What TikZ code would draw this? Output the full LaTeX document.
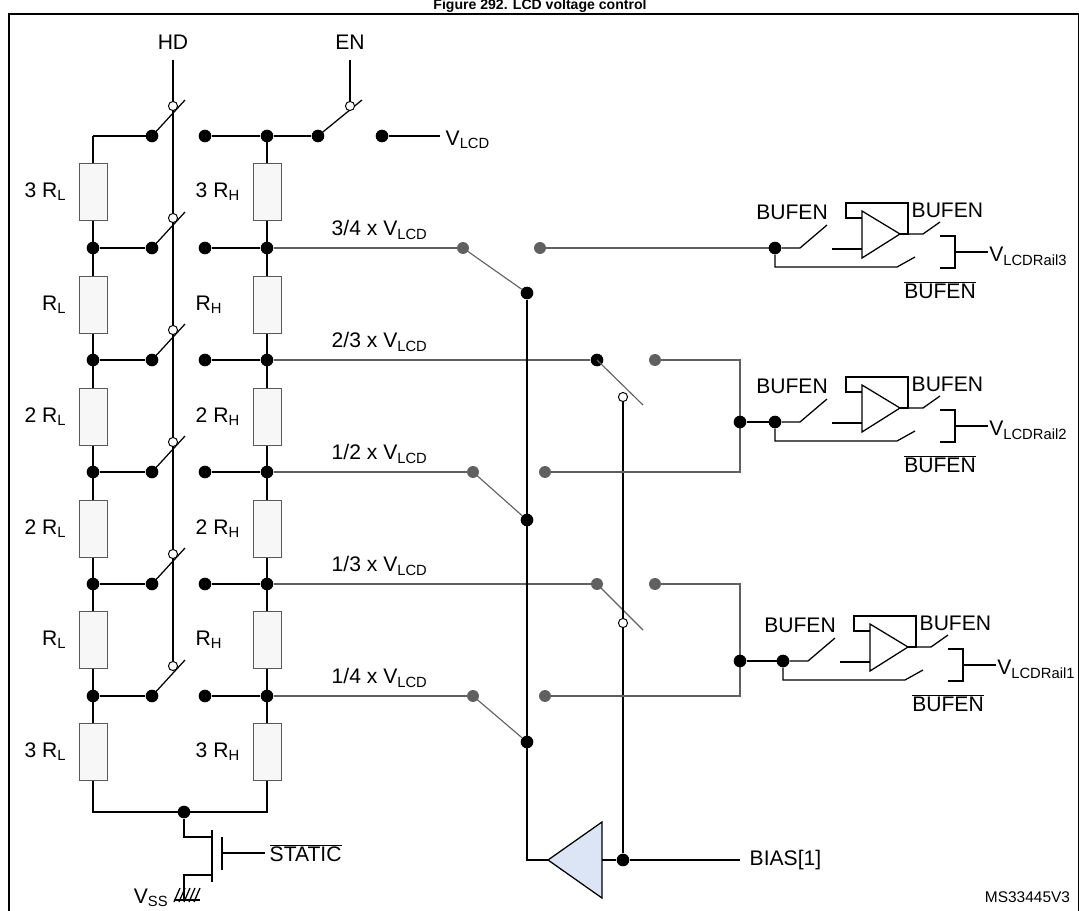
\documentclass[tikz,border=0pt]{standalone}
\usepackage{fontspec}
\setmainfont{Liberation Sans}
\usetikzlibrary{positioning}
\tikzset{
  wire/.style={line width=0.9pt},
  gwire/.style={line width=0.8pt,gray!75!black},
  dot/.style={circle,fill=black,inner sep=0pt,minimum size=9pt},
  gdot/.style={circle,fill=gray!75!black,inner sep=0pt,minimum size=8.5pt},
  odot/.style={circle,draw,fill=white,inner sep=0pt,minimum size=6.5pt,line width=0.7pt},
  res/.style={draw=gray!70!black,fill=gray!6,minimum width=0.7cm,minimum height=1.42cm,inner sep=0pt,line width=0.7pt},
  lbl/.style={font=\fontsize{15}{17}\selectfont,inner sep=1pt},
}
\definecolor{biasfill}{rgb}{0.86,0.9,0.96}
\newcommand{\VL}{V\textsubscript{LCD}}
% one output buffer stage, #1 = input dot, #2 = rail name
\newcommand{\bufstage}[2]{%
  \begin{scope}[shift={(#1)}]
    \node[dot] (b) at (0,0) {};
    \draw[wire] (b) -- (25,0) -- (52,-23);
    \draw[wire] (b) -- (0,19) -- (122,19) -- (140,9);
    \draw[wire] (87,-37) -- (87,10) -- (125,-14) -- cycle;
    \draw[wire] (57,1) -- (87,1);
    \draw[wire] (125,-14) -- (133,-14) -- (133,-45) -- (71,-45) -- (71,-30) -- (87,-30);
    \draw[wire] (133,-14) -- (148,-14) -- (165,-26);
    \draw[wire] (165,-12) -- (180,-12) -- (180,20) -- (165,20);
    \draw[wire] (180,4) -- (213,4);
    \node[lbl,anchor=west,inner sep=0pt] at (214,8) {V\textsubscript{#2}};
    \node[lbl] at (17,-36) {BUFEN};
    \node[lbl,anchor=west] at (135,-38) {BUFEN};
    \node[lbl] at (165,42) {$\overline{\mbox{BUFEN}}$};
  \end{scope}}
\begin{document}
\begin{tikzpicture}[x=0.025cm,y=-0.025cm]
\useasboundingbox (0,0) rectangle (1079,910);
\node[font=\bfseries\fontsize{10}{12}\selectfont,inner sep=0pt,anchor=south] at (540,12.5) {Figure 292. LCD voltage control};
\draw[line width=1.2pt] (9,14) rectangle (1079,912);
%
% divider chains
\draw[wire] (93,136) -- (93,812) -- (267,812) -- (267,136);
\foreach \y/\l/\h in {192/3 /3 ,305//,417/2 /2 ,529/2 /2 ,640//,752/3 /3 }{
  \node[res] (rl\y) at (93,\y) {};
  \node[res] (rh\y) at (267,\y) {};
  \node[lbl,anchor=east] at (68,\y) {\l R\textsubscript{L}};
  \node[lbl,anchor=west] at (194,\y) {\h R\textsubscript{H}};
}
% HD switches
\node[lbl] (hd) at (173,42) {HD};
\draw[wire] (173,60) -- (173,666);
\draw[wire] (93,136) -- (152,136);
\foreach \y in {136,248,360,472,584,696}{
  \node[dot] (sl\y) at (152,\y) {};
  \node[dot] (sr\y) at (205,\y) {};
  \draw[wire] (sl\y.center) -- (185,\y-36);
  \node[odot] at (173,\y-30) {};
  \node[dot] (nr\y) at (267,\y) {};
  \draw[wire] (sr\y) -- (nr\y);
}
\foreach \y in {248,360,472,584,696}{
  \node[dot] (nl\y) at (93,\y) {};
  \draw[wire] (nl\y) -- (sl\y);
}
% EN switch
\node[lbl] (en) at (350,42) {EN};
\node[dot] (e1) at (318,136) {};
\node[dot] (e2) at (382,136) {};
\draw[wire] (350,60) -- (350,106);
\draw[wire] (nr136) -- (e1);
\draw[wire] (e1.center) -- (362,100);
\node[odot] at (350,106) {};
\draw[wire] (e2) -- (440,136);
\node[lbl,anchor=west] at (444,140) {\VL};
% tap labels
\foreach \y/\f in {248/3\slash4,360/2\slash3,472/1\slash2,584/1\slash3,696/1\slash4}
  \node[lbl,anchor=west] at (330,\y-18) {\f{} x \VL};
% bias selection switches
\node[gdot] (a248) at (463,248) {};
\node[gdot] (c248) at (540,248) {};
\node[dot] (m248) at (527,293) {};
\node[dot] (a360) at (597,360) {};
\node[gdot] (c360) at (655,360) {};
\node[gdot] (a472) at (473,472) {};
\node[gdot] (c472) at (545,472) {};
\node[dot] (m472) at (527,520) {};
\node[gdot] (a584) at (597,584) {};
\node[gdot] (c584) at (655,584) {};
\node[gdot] (a696) at (473,696) {};
\node[gdot] (c696) at (545,696) {};
\node[dot] (m696) at (527,742) {};
\foreach \y in {248,360,472,584,696}
  \draw[gwire] (nr\y) -- (a\y);
\draw[gwire] (a248.center) -- (m248);
\draw[gwire] (a472.center) -- (m472);
\draw[gwire] (a696.center) -- (m696);
\draw[gwire] (a360.center) -- (643,405);
\draw[gwire] (a584.center) -- (643,630);
% bias buffer
\draw[wire] (m248) -- (527,860) -- (548,860);
\draw[wire,fill=biasfill] (548,860) -- (602,822) -- (602,898) -- cycle;
\node[dot] (bj) at (623,860) {};
\draw[wire] (602,860) -- (bj) -- (740,860);
\node[lbl,anchor=west] at (748,860) {BIAS[1]};
\draw[wire] (bj) -- (623,401);
\node[odot] at (623,397) {};
\node[odot] at (623,623) {};
% rails to buffers
\draw[gwire] (c248) -- (775,248);
\draw[gwire] (c360) -- (740,360) -- (740,472) -- (c472);
\draw[gwire] (c584) -- (740,584) -- (740,696) -- (c696);
\node[dot] (j2) at (740,422) {};
\node[dot] (j1) at (740,661) {};
\draw[wire] (j2) -- (775,422);
\draw[wire] (j1) -- (785,661);
\bufstage{775,248}{LCDRail3}
\bufstage{775,422}{LCDRail2}
\bufstage{783,661}{LCDRail1}
% static switch
\node[dot] (gj) at (184,812) {};
\draw[wire] (gj) -- (184,837) -- (212,837);
\draw[wire] (212,830) -- (212,882);
\draw[wire] (222,837) -- (222,870);
\draw[wire] (222,853) -- (265,853);
\node[lbl,anchor=west] at (268,853) {$\overline{\mbox{STATIC}}$};
\draw[wire] (212,875) -- (184,875) -- (184,900);
\draw[wire] (174,900) -- (200,900);
\foreach \x in {174,179,...,194} \draw[wire] (\x,902) -- (\x+6,888);
\node[lbl,anchor=east] at (170,898) {V\textsubscript{SS}};
\node[font=\fontsize{11}{13}\selectfont,anchor=south east] at (1075,908) {MS33445V3};
\end{tikzpicture}
\end{document}
